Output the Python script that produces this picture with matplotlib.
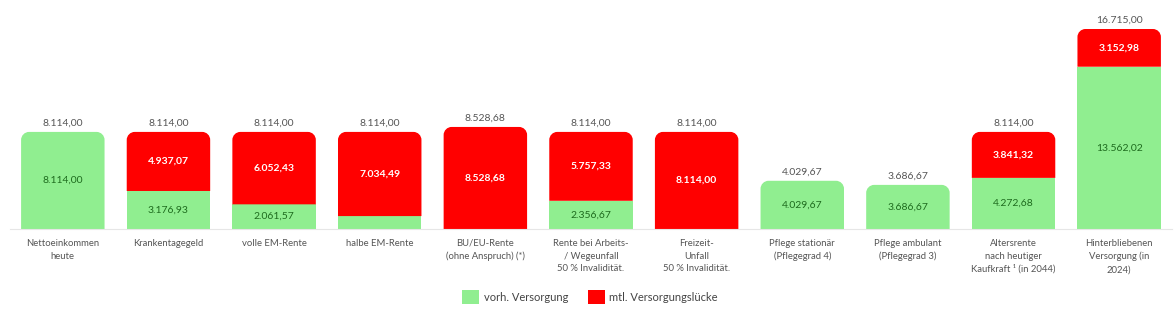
import numpy as np
import matplotlib.pyplot as plt
from matplotlib.path import Path
from matplotlib.patches import PathPatch, Patch

categories = ["Nettoeinkommen\nheute", "Krankentagegeld", "volle EM-Rente", "halbe EM-Rente",
              "BU/EU-Rente\n(ohne Anspruch) (*)", "Rente bei Arbeits-\n/ Wegeunfall\n50 % Invalidität.",
              "Freizeit-\nUnfall\n50 % Invalidität.", "Pflege stationär\n(Pflegegrad 4)",
              "Pflege ambulant\n(Pflegegrad 3)", "Altersrente\nnach heutiger\nKaufkraft ¹ (in 2044)",
              "Hinterbliebenen\nVersorgung (in\n2024)"]
versorgung = [8114.00, 3176.93, 2061.57, 1079.51, 0.0, 2356.67, 0.0, 4029.67, 3686.67, 4272.68, 13562.02]
luecke = [0.0, 4937.07, 6052.43, 7034.49, 8528.68, 5757.33, 8114.00, 0.0, 0.0, 3841.32, 3152.98]

GREEN = "#90ee90"
RED = "#ff0000"

plt.rcParams['font.family'] = ['Lato', 'DejaVu Sans']

def de(v):
    s = f"{v:,.2f}"
    return s.replace(",", "X").replace(".", ",").replace("X", ".")

fig = plt.figure(figsize=(11.76, 3.09), dpi=100)
ax = fig.add_axes([10/1176, 80/309, 1162/1176, 219/309])
x = np.arange(len(categories))
w = 0.79

gbars = ax.bar(x, versorgung, w, color=GREEN, linewidth=0)
rbars = ax.bar(x, luecke, w, bottom=versorgung, color=RED, linewidth=0)
ax.set_xlim(-0.5, len(categories) - 0.5)
ax.set_ylim(0, 16715 / 200 * 219)

# round the top corners of the topmost segment of every bar
fig.canvas.draw()
px_x = 1162 / len(categories)
px_y = 219 / ax.get_ylim()[1]
r = 8
rx, ry = r / px_x, r / px_y
k = 0.5523
for g, rb in zip(gbars, rbars):
    top = rb if rb.get_height() > 0 else g
    x0, y0 = top.get_x(), top.get_y()
    x1, y1 = x0 + top.get_width(), y0 + top.get_height()
    verts = [(x0, y0), (x0, y1 - ry),
             (x0, y1 - ry + k * ry), (x0 + rx - k * rx, y1), (x0 + rx, y1),
             (x1 - rx, y1),
             (x1 - rx + k * rx, y1), (x1, y1 - ry + k * ry), (x1, y1 - ry),
             (x1, y0), (x0, y0)]
    codes = [Path.MOVETO, Path.LINETO, Path.CURVE4, Path.CURVE4, Path.CURVE4, Path.LINETO,
             Path.CURVE4, Path.CURVE4, Path.CURVE4, Path.LINETO, Path.CLOSEPOLY]
    ax.add_patch(PathPatch(Path(verts, codes), facecolor=top.get_facecolor(), linewidth=0))
    top.set_visible(False)

for i in range(len(categories)):
    g, l = versorgung[i], luecke[i]
    if g > 1500:
        ax.text(i, g / 2, de(g), ha="center", va="center", fontsize=7.5, color="#1e6b1e")
    if l > 1500:
        ax.text(i, g + l / 2, de(l), ha="center", va="center", fontsize=7.5,
                color="white", fontweight="bold")
    ax.text(i, g + l + 350, de(g + l), ha="center", va="bottom", fontsize=7.5, color="#555555")

ax.set_xticks(x)
ax.set_xticklabels(categories, fontsize=6.8, color="#555555", linespacing=1.55)
ax.tick_params(axis="x", length=0, pad=7)
ax.set_yticks([])
for s in ["top", "right", "left"]:
    ax.spines[s].set_visible(False)
ax.spines["bottom"].set_color("#e6e6e6")
ax.spines["bottom"].set_linewidth(0.8)

handles = [Patch(facecolor=GREEN, label="vorh. Versorgung"),
           Patch(facecolor=RED, label="mtl. Versorgungslücke")]
fig.legend(handles=handles, loc="center", bbox_to_anchor=(590/1176, 1 - 297/309), ncol=2,
           frameon=False, fontsize=8, handlelength=1.5, handleheight=1.5,
           columnspacing=1.8, handletextpad=0.4, labelcolor="#444444")

fig.savefig("out.png", dpi=100)
